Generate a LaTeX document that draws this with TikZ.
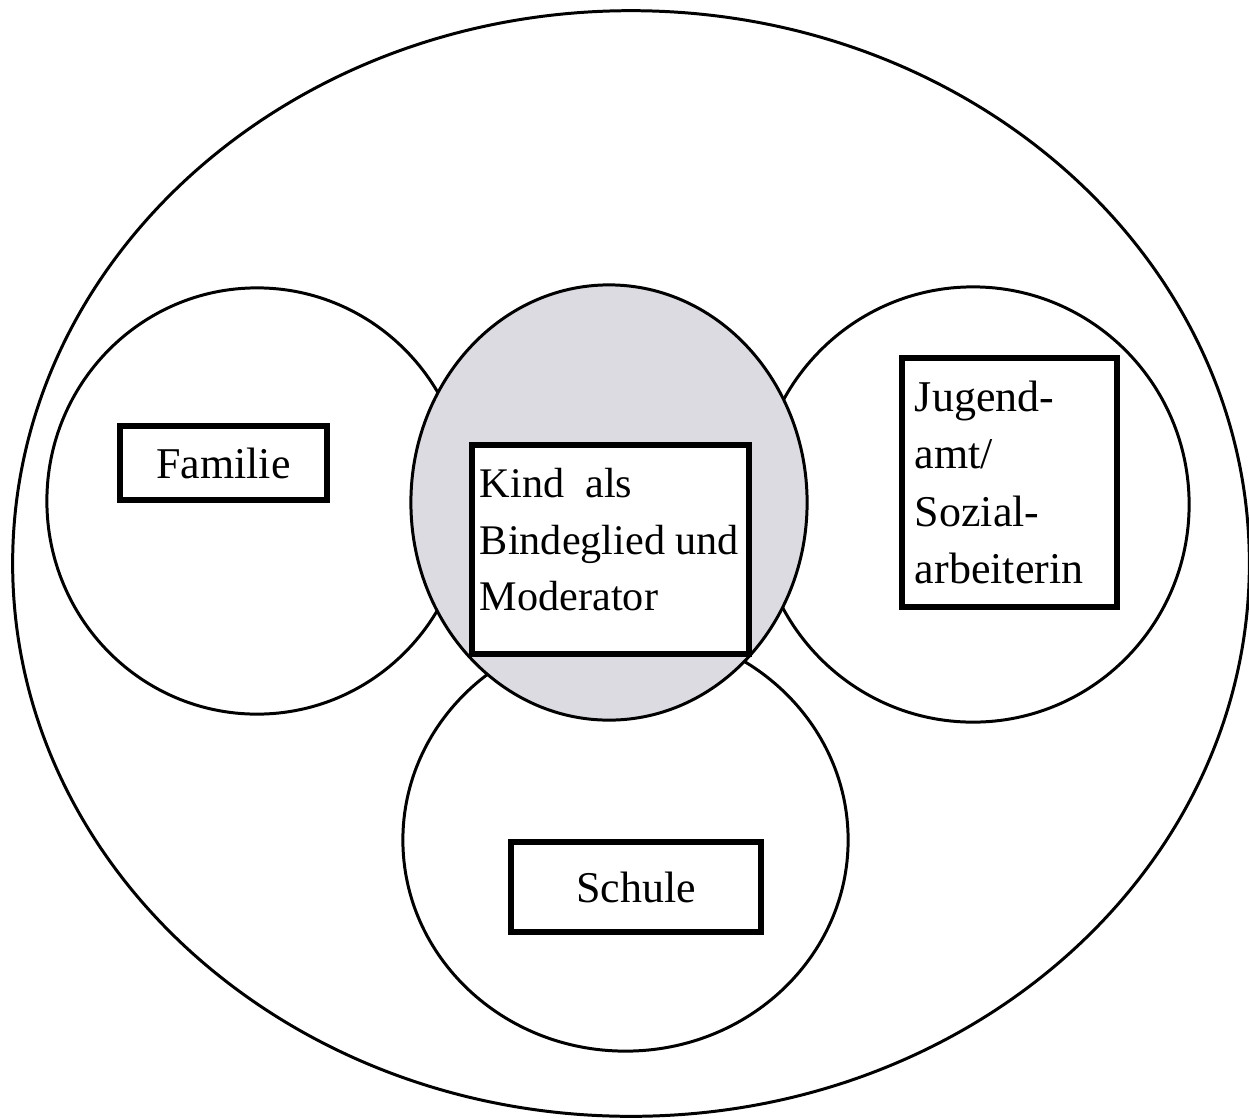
\documentclass[tikz,border=0pt]{standalone}
\usepackage{fontspec}
\setmainfont{Liberation Serif}
\usetikzlibrary{shapes.geometric}
\definecolor{kindgray}{RGB}{219,219,225}

\begin{document}
\begin{tikzpicture}[x=0.01cm, y=-0.01cm,
  ring/.style={ellipse, draw, line width=0.85pt, inner sep=0pt},
  box/.style={rectangle, draw, line width=1.7pt, fill=white, inner sep=0pt,
    font=\fontsize{12.5}{16.3}\selectfont}]
  \useasboundingbox (0, 0) rectangle (1249, 1118);
  \node [ring, minimum width=12.36cm, minimum height=11.05cm] (Umfeld) at (631, 563.5) {};
  \node [ring, minimum width=4.20cm, minimum height=4.26cm] (Familie) at (257, 501) {};
  \node [ring, minimum width=4.32cm, minimum height=4.35cm] (Jugendamt) at (973, 504.5) {};
  \node [ring, minimum width=4.45cm, minimum height=4.22cm] (Schule) at (625.5, 840) {};
  \node [ring, fill=kindgray, minimum width=3.96cm, minimum height=4.35cm] (Kind) at (609, 502.5) {};
  \node [box, minimum width=2.07cm, minimum height=0.74cm] (FamilieBox) at (223.5, 463) {Familie};
  \node [box, font=\fontsize{12}{16}\selectfont, inner xsep=0.08cm, text width=2.61cm,
    minimum height=2.09cm, align=flush left]
    (KindBox) at (610.5, 549.5) {Kind~~als\\Bindeglied und\\Moderator\rule[-0.2cm]{0pt}{0pt}};
  \node [box, inner xsep=0.13cm, text width=1.89cm, minimum height=2.49cm, align=flush left]
    (JugendamtBox) at (1009.5, 482.5) {Jugend-\\amt/\\Sozial-\\arbeiterin};
  \node [box, minimum width=2.50cm, minimum height=0.90cm] (SchuleBox) at (636, 887) {Schule};
\end{tikzpicture}
\end{document}
